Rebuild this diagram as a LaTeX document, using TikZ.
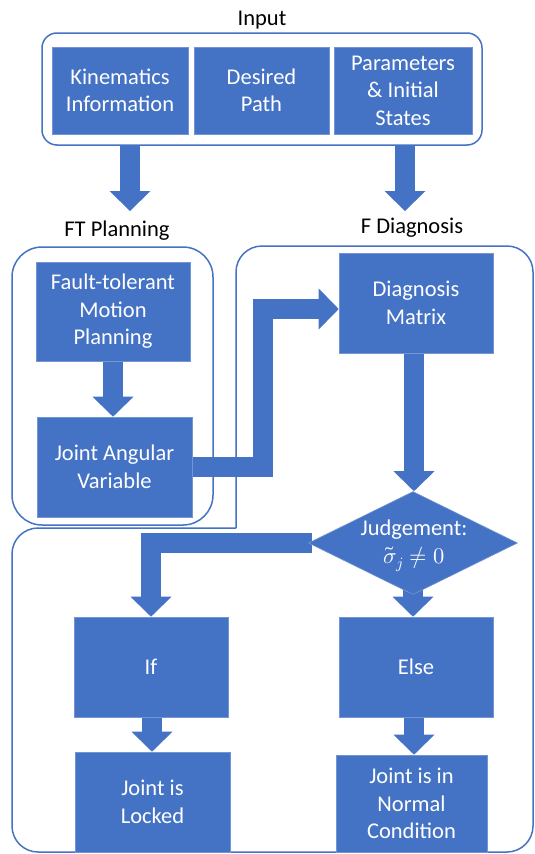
\documentclass[tikz,border=0pt]{standalone}
\usepackage{fontspec}
\usepackage{unicode-math}
\setmainfont{Carlito}
\setmathfont{Latin Modern Math}
\usetikzlibrary{shapes.geometric,arrows.meta,backgrounds,calc}
\definecolor{obl}{HTML}{4472C4}
\begin{document}
\begin{tikzpicture}[x=1pt,y=-1pt,
  box/.style={rectangle, fill=obl, draw=obl!75!white, line width=0.6pt, text=white, align=center, inner sep=0pt,
    font=\fontsize{22.5}{27.5}\selectfont},
  wtxt/.style={text=white, align=center, inner sep=0pt, font=\fontsize{22.5}{27.5}\selectfont},
  lbl/.style={text=black, inner sep=0pt, font=\fontsize{22.5}{27.5}\selectfont},
  cont/.style={draw=obl, line width=1.5pt, fill=none},
  blk/.style={draw=obl, line width=20pt, line join=miter,
    -{Triangle[width=41pt,length=20pt,line width=0pt]}}
]
\useasboundingbox (0,0) rectangle (535,854);

% containers
\node[cont, rounded corners=15pt, minimum width=440pt, minimum height=112pt, inner sep=0pt] (inp) at (262,89) {};
\node[cont, rounded corners=30pt, minimum width=201pt, minimum height=278pt, inner sep=0pt] (ftp) at (112.5,386) {};
\draw[cont, rounded corners=26pt] (236,528) -- (236,246) -- (533,246) -- (533,852) -- (12,852) -- (12,528) -- (236,528);

% titles
\node[lbl] (tin) at (262,20) {Input};
\node[lbl] (tft) at (117,231) {FT Planning};
\node[lbl] (tfd) at (412,228) {F Diagnosis};

% input boxes
\node[box, minimum width=136pt, minimum height=87pt] (kin) at (120,90.5) {Kinematics\\Information};
\node[box, minimum width=135pt, minimum height=87pt] (dp) at (261.5,90.5) {Desired\\Path};
\node[box, minimum width=138pt, minimum height=87pt] (par) at (403,90.5) {Parameters\\\& Initial\\States};

% planning
\node[box, minimum width=154pt, minimum height=99pt] (ftm) at (113,311.5) {Fault-tolerant\\Motion\\Planning};
\node[box, minimum width=155pt, minimum height=100pt] (ja) at (114.5,467) {Joint Angular\\Variable};

% diagnosis
\node[box, minimum width=154pt, minimum height=100pt] (dm) at (416,303) {Diagnosis\\Matrix};
\node[diamond, fill=obl, draw=obl!75!white, line width=0.6pt, minimum width=209pt, minimum height=103pt, inner sep=0pt] (dia) at (413,543) {};
\node[wtxt] (diat) at (414,546) {Judgement:\\$\tilde{\sigma}_j \neq 0$};

\node[box, minimum width=154pt, minimum height=100pt] (ifb) at (151,667) {If};
\node[box, minimum width=155pt, minimum height=100pt] (jl) at (152.5,802) {Joint is\\Locked};
\node[box, minimum width=154pt, minimum height=100pt] (el) at (416,667) {Else};
\node[box, minimum width=151pt, minimum height=97pt] (jn) at (411.5,803.5) {Joint is in\\Normal\\Condition};

\coordinate (ftT) at (130,211);
\coordinate (fdT) at (405,211);

\begin{scope}[on background layer]
\draw[blk] (ftT |- inp.south) -- (ftT);
\draw[blk] (fdT |- inp.south) -- (fdT);
\draw[blk] (ftm.south) -- (ftm.south |- ja.north);
\draw[blk] (ja.east) -- ++(70.5,0) |- ([yshift=-6pt]dm.west);
\draw[blk] ([xshift=-2pt]dm.south) -- ([xshift=-2pt]dm.south |- dia.north);
\draw[blk] ([xshift=4pt]dia.west) -| (ifb.north);
\draw[blk] ([yshift=14pt]dia.south) -- (dia.south |- el.north);
\draw[blk] ([xshift=1pt]ifb.south) -- ([xshift=1pt]ifb.south |- jl.north);
\draw[blk] ([xshift=-2pt]el.south) -- ([xshift=-2pt]el.south |- jn.north);
\end{scope}
\end{tikzpicture}
\end{document}
